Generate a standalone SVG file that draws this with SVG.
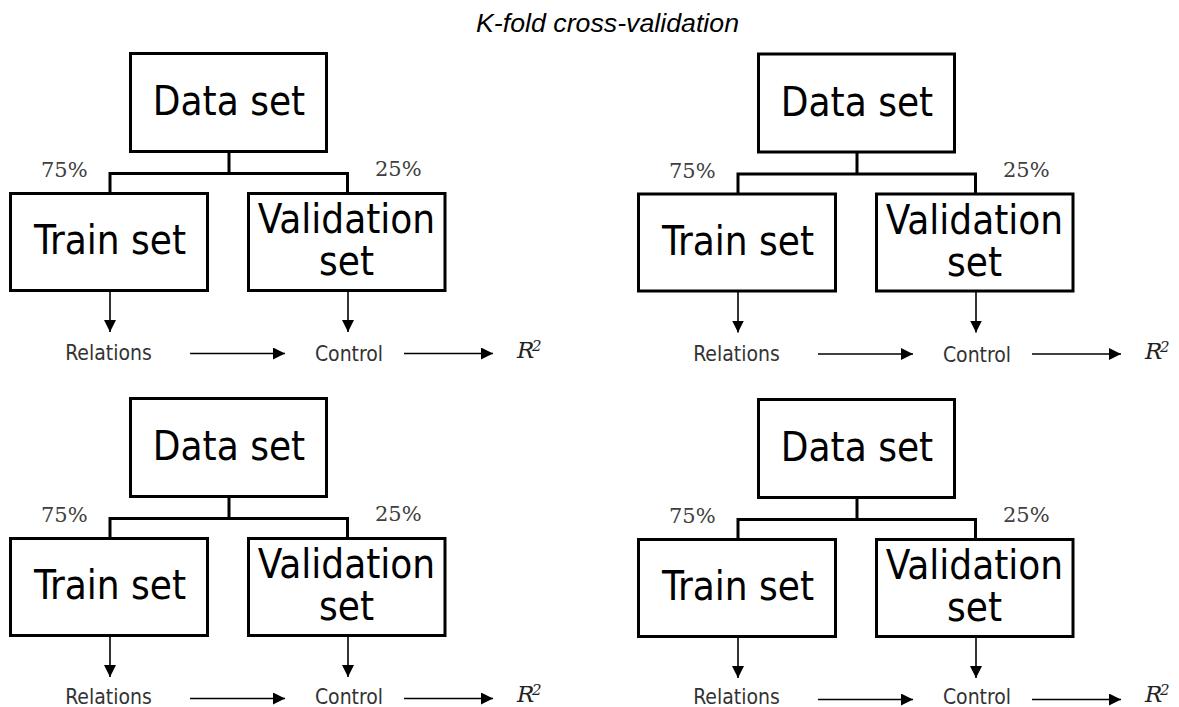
<svg xmlns="http://www.w3.org/2000/svg" width="1179" height="707" viewBox="0 0 1179 707">
<style>
.box{fill:#fff;stroke:#000;stroke-width:3}
.big{font-family:"DejaVu Sans Condensed","DejaVu Sans",sans-serif;font-stretch:condensed;font-size:40px;fill:#000;text-anchor:middle}
.small{font-family:"DejaVu Sans Condensed","DejaVu Sans",sans-serif;font-stretch:condensed;font-size:21px;fill:#333;text-anchor:middle}
.pct{font-family:"DejaVu Serif",serif;font-size:21px;fill:#404040}
.r2{font-family:"DejaVu Serif","Liberation Serif",serif;font-style:italic;fill:#222}
.split{fill:none;stroke:#000;stroke-width:3}
.arr{fill:none;stroke:#000;stroke-width:1.6;marker-end:url(#ah)}
.title{font-family:"Liberation Sans",Arial,sans-serif;font-style:italic;font-size:25px;fill:#000;text-anchor:middle}
</style>
<defs>
<marker id="ah" viewBox="0 0 12 12" refX="12" refY="6" markerWidth="12" markerHeight="12" markerUnits="userSpaceOnUse" orient="auto">
<path d="M0,0 L12,6 L0,12 z" fill="#000"/>
</marker>
<g id="block">
<g class="connectors">
<path class="split" d="M229,152 V173.5 M110,173.5 H347.5 M110,172 V193.5 M347.5,172 V193.5"/>
<path class="arr" d="M110,290 V332"/>
<path class="arr" d="M348,290 V332"/>
<path class="arr" d="M190,353.5 H285"/>
<path class="arr" d="M404,353.5 H493"/>
</g>
<text class="pct" x="41" y="177">75%</text>
<text class="pct" x="375" y="176">25%</text>
</g>
</defs>
<text id="title" class="title" x="607.5" y="32" textLength="263" lengthAdjust="spacingAndGlyphs">K-fold cross-validation</text>

<g id="fold1">
<use href="#block"/>
<g id="f1-data"><rect class="box" x="130.5" y="53.5" width="196" height="98"/><text class="big" x="229" y="115">Data set</text></g>
<g id="f1-train"><rect class="box" x="10.5" y="193.5" width="197" height="97"/><text class="big" x="110" y="254">Train set</text></g>
<g id="f1-valid"><rect class="box" x="248.5" y="193.5" width="196.5" height="97"/><text class="big" x="346.5" y="233">Validation</text><text class="big" x="346.5" y="275">set</text></g>
<g id="f1-rel"><text class="small" x="108.5" y="360">Relations</text></g>
<g id="f1-ctl"><text class="small" x="349" y="361">Control</text></g>
<g id="f1-r2"><text class="r2" x="517" y="358" font-size="23">R</text><text class="r2" x="532" y="351" font-size="15" font-style="normal">2</text></g>
</g>

<g id="fold2" transform="translate(628,0.5)">
<use href="#block"/>
<g id="f2-data"><rect class="box" x="130.5" y="53.5" width="196" height="98"/><text class="big" x="229" y="115">Data set</text></g>
<g id="f2-train"><rect class="box" x="10.5" y="193.5" width="197" height="97"/><text class="big" x="110" y="254">Train set</text></g>
<g id="f2-valid"><rect class="box" x="248.5" y="193.5" width="196.5" height="97"/><text class="big" x="346.5" y="233">Validation</text><text class="big" x="346.5" y="275">set</text></g>
<g id="f2-rel"><text class="small" x="108.5" y="360">Relations</text></g>
<g id="f2-ctl"><text class="small" x="349" y="361">Control</text></g>
<g id="f2-r2"><text class="r2" x="517" y="358" font-size="23">R</text><text class="r2" x="532" y="351" font-size="15" font-style="normal">2</text></g>
</g>

<g id="fold3" transform="translate(0,345)">
<use href="#block"/>
<g id="f3-data"><rect class="box" x="130.5" y="53.5" width="196" height="98"/><text class="big" x="229" y="115">Data set</text></g>
<g id="f3-train"><rect class="box" x="10.5" y="193.5" width="197" height="97"/><text class="big" x="110" y="254">Train set</text></g>
<g id="f3-valid"><rect class="box" x="248.5" y="193.5" width="196.5" height="97"/><text class="big" x="346.5" y="233">Validation</text><text class="big" x="346.5" y="275">set</text></g>
<g id="f3-rel"><text class="small" x="108.5" y="359">Relations</text></g>
<g id="f3-ctl"><text class="small" x="349" y="359">Control</text></g>
<g id="f3-r2"><text class="r2" x="517" y="357" font-size="23">R</text><text class="r2" x="532" y="350" font-size="15" font-style="normal">2</text></g>
</g>

<g id="fold4" transform="translate(628,346)">
<use href="#block"/>
<g id="f4-data"><rect class="box" x="130.5" y="53.5" width="196" height="98"/><text class="big" x="229" y="115">Data set</text></g>
<g id="f4-train"><rect class="box" x="10.5" y="193.5" width="197" height="97"/><text class="big" x="110" y="254">Train set</text></g>
<g id="f4-valid"><rect class="box" x="248.5" y="193.5" width="196.5" height="97"/><text class="big" x="346.5" y="233">Validation</text><text class="big" x="346.5" y="275">set</text></g>
<g id="f4-rel"><text class="small" x="108.5" y="358">Relations</text></g>
<g id="f4-ctl"><text class="small" x="349" y="358">Control</text></g>
<g id="f4-r2"><text class="r2" x="517" y="356" font-size="23">R</text><text class="r2" x="532" y="349" font-size="15" font-style="normal">2</text></g>
</g>
</svg>
